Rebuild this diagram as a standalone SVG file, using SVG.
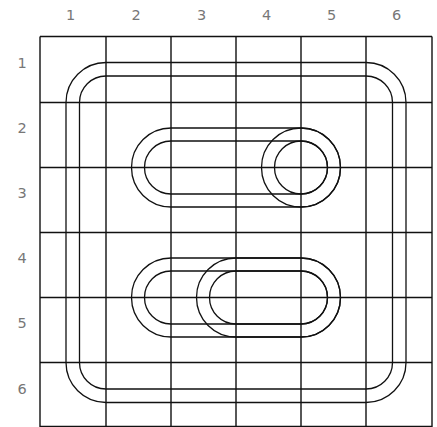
<svg xmlns="http://www.w3.org/2000/svg" width="437" height="427" viewBox="0 0 437 427">
<style>
.g{stroke:#111;stroke-width:1.4;fill:none}
.t{stroke:#111;stroke-width:1.3;fill:none}
.lbl{font-family:"DejaVu Sans",sans-serif;font-size:14.5px;fill:#777;text-anchor:middle}
</style>
<rect width="437" height="427" fill="#fff"/>
<g id="grid" class="g">
<path d="M40 36.5H432M40 102.5H432M40 167.5H432M40 232.5H432M40 297.5H432M40 362.5H432M40 426.5H432"/>
<path d="M40 36.5V427M106 36.5V427M171 36.5V427M236 36.5V427M301 36.5V427M366 36.5V427M432 36.5V427"/>
</g>
<g id="labels" class="lbl">
<text x="70.5" y="20">1</text>
<text x="136" y="20">2</text>
<text x="201.5" y="20">3</text>
<text x="266.5" y="20">4</text>
<text x="331.5" y="20">5</text>
<text x="396.5" y="20">6</text>
<text x="22" y="67.5">1</text>
<text x="22" y="132.5">2</text>
<text x="22" y="197.5">3</text>
<text x="22" y="263">4</text>
<text x="22" y="328">5</text>
<text x="22" y="393.5">6</text>
</g>
<g id="outer-loop" class="t">
<rect x="66" y="62.5" width="340" height="340" rx="40"/>
<rect x="79.5" y="76" width="313" height="313" rx="26.5"/>
</g>
<g id="upper-loop" class="t">
<rect x="131.5" y="128" width="209" height="79" rx="39.5"/>
<rect x="144.5" y="141" width="183" height="53" rx="26.5"/>
</g>
<g id="upper-ring" class="t">
<circle cx="301" cy="167.5" r="39.5"/>
<circle cx="301" cy="167.5" r="26.5"/>
</g>
<g id="lower-loop-a" class="t">
<rect x="131.5" y="258" width="209" height="79" rx="39.5"/>
<rect x="144.5" y="271" width="183" height="53" rx="26.5"/>
</g>
<g id="lower-loop-b" class="t">
<rect x="196.5" y="258" width="144" height="79" rx="39.5"/>
<rect x="209.5" y="271" width="118" height="53" rx="26.5"/>
</g>
</svg>
